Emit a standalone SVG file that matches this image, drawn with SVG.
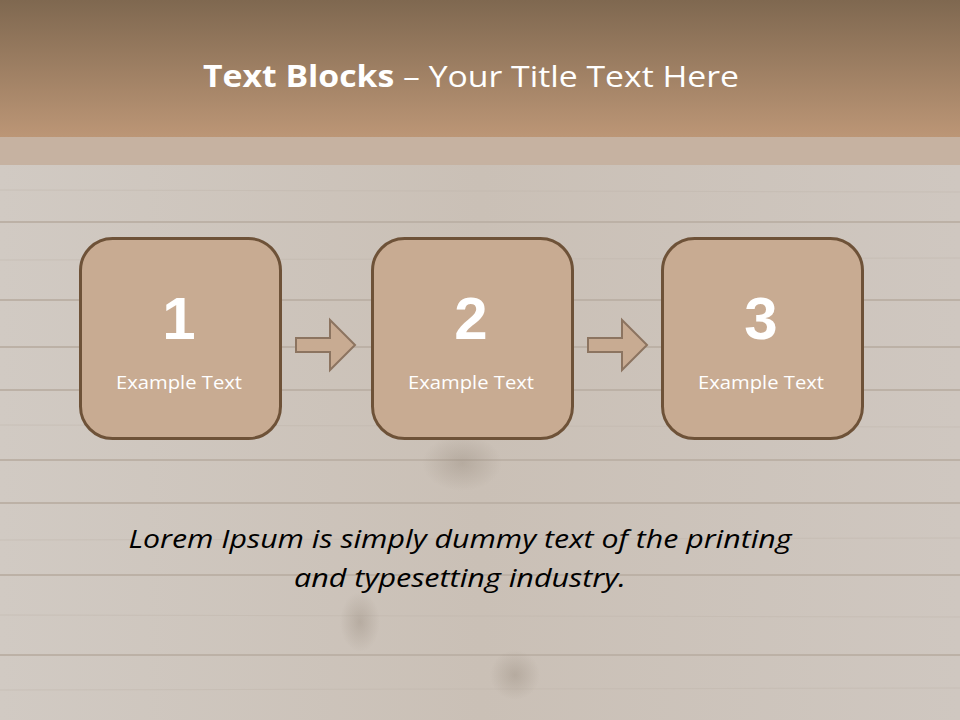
<svg xmlns="http://www.w3.org/2000/svg" width="960" height="720" viewBox="0 0 960 720">
  <defs>
    <linearGradient id="hdr" x1="0" y1="0" x2="0" y2="1">
      <stop offset="0" stop-color="#7f6850"/>
      <stop offset="1" stop-color="#bc9676"/>
    </linearGradient>
    <linearGradient id="wood" x1="0" y1="0" x2="1" y2="0">
      <stop offset="0" stop-color="#d1cac3"/>
      <stop offset="0.5" stop-color="#cac0b6"/>
      <stop offset="1" stop-color="#cfc7c0"/>
    </linearGradient>
    <radialGradient id="knot" cx="0.5" cy="0.5" r="0.5">
      <stop offset="0" stop-color="#8f8274" stop-opacity="0.35"/>
      <stop offset="1" stop-color="#8f8274" stop-opacity="0"/>
    </radialGradient>
  </defs>
  <style>
    .seam { stroke: #bcb1a6; stroke-width: 2; }
    .grain { stroke: #c2b8ae; stroke-width: 1; opacity: 0.5; }
    .box { fill: #c8ab92; stroke: #6e5238; stroke-width: 3; }
    .arrow { fill: #c8ab92; stroke: #8c7460; stroke-width: 2; }
    .num { font-family: "Liberation Sans", Arial, sans-serif; font-weight: bold; font-size: 60px; fill: #ffffff; text-anchor: middle; }
    .lbl { font-family: "Open Sans", "Liberation Sans", sans-serif; font-size: 18px; fill: #ffffff; text-anchor: middle; }
    .title { font-family: "Open Sans", "Liberation Sans", sans-serif; font-size: 30px; fill: #ffffff; }
    .body { font-family: "Open Sans", "Liberation Sans", sans-serif; font-style: italic; font-size: 25px; fill: #000000; text-anchor: middle; }
  </style>

  <!-- background -->
  <rect x="0" y="0" width="960" height="720" fill="url(#wood)"/>
  <rect x="0" y="137" width="960" height="28" fill="#c6b2a1"/>
  <g id="planks">
    <line class="seam" x1="0" y1="222" x2="960" y2="222"/>
    <line class="seam" x1="0" y1="300" x2="960" y2="300"/>
    <line class="seam" x1="0" y1="347" x2="960" y2="347"/>
    <line class="seam" x1="0" y1="390" x2="960" y2="390"/>
    <line class="seam" x1="0" y1="460" x2="960" y2="460"/>
    <line class="seam" x1="0" y1="503" x2="960" y2="503"/>
    <line class="seam" x1="0" y1="575" x2="960" y2="575"/>
    <line class="seam" x1="0" y1="655" x2="960" y2="655"/>
    <line class="grain" x1="0" y1="190" x2="960" y2="192"/>
    <line class="grain" x1="0" y1="260" x2="960" y2="258"/>
    <line class="grain" x1="0" y1="425" x2="960" y2="427"/>
    <line class="grain" x1="0" y1="540" x2="960" y2="538"/>
    <line class="grain" x1="0" y1="615" x2="960" y2="617"/>
    <line class="grain" x1="0" y1="690" x2="960" y2="688"/>
    <ellipse cx="462" cy="463" rx="40" ry="28" fill="url(#knot)"/>
    <ellipse cx="360" cy="622" rx="20" ry="30" fill="url(#knot)"/>
    <ellipse cx="515" cy="675" rx="25" ry="25" fill="url(#knot)"/>
  </g>

  <!-- header -->
  <rect x="0" y="0" width="960" height="137" fill="url(#hdr)"/>
  <text class="title" x="471" y="87" text-anchor="middle" textLength="536" lengthAdjust="spacingAndGlyphs"><tspan font-weight="bold">Text Blocks</tspan> – Your Title Text Here</text>

  <!-- connectors -->
  <g id="connectors">
    <path class="arrow" d="M296,338 H330 V320 L355,345 L330,370 V352 H296 Z"/>
    <path class="arrow" d="M588,338 H622 V320 L647,345 L622,370 V352 H588 Z"/>
  </g>

  <g id="node1">
    <rect class="box" x="80.5" y="238.5" width="200" height="200" rx="32"/>
    <text class="num" x="179" y="339">1</text>
    <text class="lbl" x="179" y="389" textLength="126" lengthAdjust="spacingAndGlyphs">Example Text</text>
  </g>
  <g id="node2">
    <rect class="box" x="372.5" y="238.5" width="200" height="200" rx="32"/>
    <text class="num" x="471" y="339">2</text>
    <text class="lbl" x="471" y="389" textLength="126" lengthAdjust="spacingAndGlyphs">Example Text</text>
  </g>
  <g id="node3">
    <rect class="box" x="662.5" y="238.5" width="200" height="200" rx="32"/>
    <text class="num" x="761" y="339">3</text>
    <text class="lbl" x="761" y="389" textLength="126" lengthAdjust="spacingAndGlyphs">Example Text</text>
  </g>

  <g id="caption">
    <text class="body" x="460" y="548" textLength="663" lengthAdjust="spacingAndGlyphs">Lorem Ipsum is simply dummy text of the printing</text>
    <text class="body" x="460" y="587" textLength="332" lengthAdjust="spacingAndGlyphs">and typesetting industry.</text>
  </g>
</svg>
